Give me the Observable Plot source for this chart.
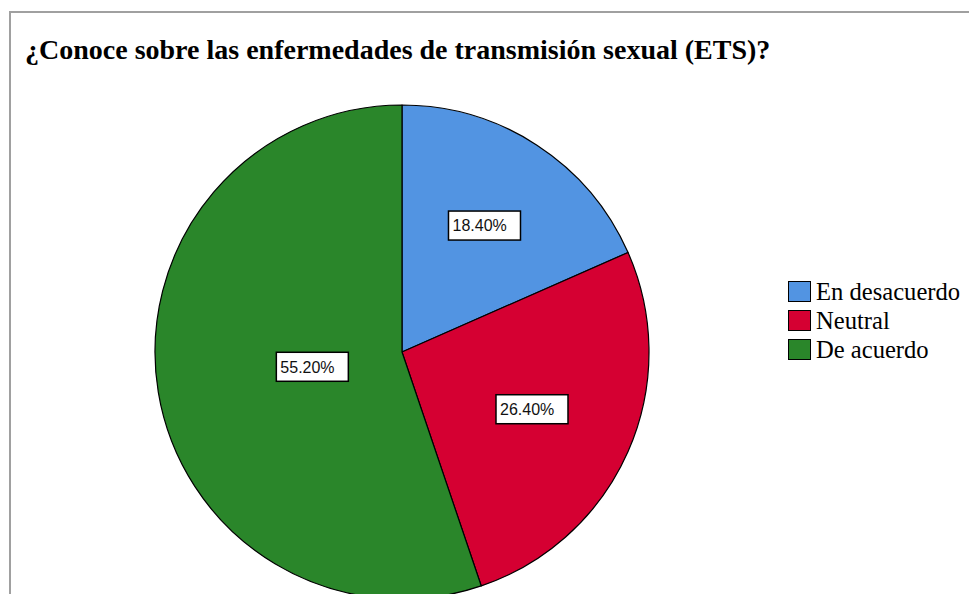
<!DOCTYPE html>
<html><head><meta charset="utf-8">
<script src="https://cdn.jsdelivr.net/npm/d3@7"></script>
<script src="https://cdn.jsdelivr.net/npm/@observablehq/plot@0.6"></script>
<style>
html,body{margin:0;padding:0;background:#fff;overflow:hidden;width:969px;height:594px;}
#wrap{position:relative;width:969px;height:594px;overflow:hidden;background:#fff;}
#chart{position:absolute;left:0;top:0;}
#frame{position:absolute;left:9px;top:11px;width:1000px;height:700px;border-top:2px solid #a0a0a0;border-left:2px solid #a0a0a0;pointer-events:none;}
#title{position:absolute;left:25px;top:36px;line-height:28px;white-space:nowrap;font-family:"Liberation Serif","Times New Roman",serif;font-weight:bold;font-size:28px;color:#000;}
#legend{position:absolute;left:788px;top:277px;font-family:"Liberation Serif","Times New Roman",serif;font-size:24.6px;color:#000;}
.row{display:flex;align-items:center;height:29px;line-height:29px;white-space:nowrap;}
.sw{width:21px;height:19px;border:1px solid #000;margin-right:5px;box-sizing:content-box;}
</style>
</head><body>
<div id="wrap">
  <div id="chart"></div>
  <div id="frame"></div>
  <div id="title"></div>
  <div id="legend"></div>
</div>
<script>
const titleText = "¿Conoce sobre las enfermedades de transmisión sexual (ETS)?";
const categories = ["En desacuerdo", "Neutral", "De acuerdo"];
const percents = [18.4, 26.4, 55.2];
const labels = ["18.40%", "26.40%", "55.20%"];
const colors = ["#5294E2", "#D50032", "#2A862A"];

document.getElementById("title").textContent = titleText;

const data = categories.map((c, i) => ({category: c, value: percents[i], label: labels[i]}));
const color = Plot.scale({color: {type: "ordinal", domain: categories, range: colors}});

const pieMark = (index, scales, values, dimensions) => {
  const {width, height, marginLeft, marginRight, marginTop, marginBottom} = dimensions;
  let cx, cy, R;
  if (scales && scales.x && scales.y) {
    cx = scales.x(0); cy = scales.y(0); R = Math.abs(scales.x(1) - scales.x(0));
  } else {
    cx = marginLeft + (width - marginLeft - marginRight) / 2;
    cy = marginTop + (height - marginTop - marginBottom) / 2;
    R = Math.min(width - marginLeft - marginRight, height - marginTop - marginBottom) / 2;
  }
  const arcs = d3.pie().sort(null).value(d => d.value)(data);
  const arc = d3.arc().innerRadius(0).outerRadius(R);
  const g = d3.create("svg:g").attr("transform", `translate(${cx},${cy})`);
  g.selectAll("path").data(arcs).join("path")
    .attr("d", arc)
    .attr("fill", d => color.apply(d.data.category))
    .attr("stroke", "#000")
    .attr("stroke-width", 1.2)
    .attr("stroke-linejoin", "round");
  const bw = 72, bh = 29;
  const lab = g.selectAll("g.lab").data(arcs).join("g").attr("class", "lab")
    .attr("transform", d => {
      const a = d.endAngle - d.startAngle;
      const mid = (d.startAngle + d.endAngle) / 2;
      const r = 0.97 * 4 * R * Math.sin(a / 2) / (3 * a);
      return `translate(${r * Math.sin(mid)},${-r * Math.cos(mid)})`;
    });
  lab.append("rect").attr("x", -bw / 2).attr("y", -bh / 2).attr("width", bw).attr("height", bh)
    .attr("fill", "#fff").attr("stroke", "#000").attr("stroke-width", 1.5);
  lab.append("text").attr("x", -bw / 2 + 4).attr("y", 0).attr("dy", "0.36em")
    .attr("text-anchor", "start")
    .attr("font-family", "'Liberation Sans', Arial, sans-serif").attr("font-size", 16)
    .attr("fill", "#111").text(d => d.data.label);
  return g.node();
};

const plot = Plot.plot({
  width: 969,
  height: 604,
  marginLeft: 155,
  marginRight: 320,
  marginTop: 105,
  marginBottom: 5,
  x: {domain: [-1, 1], axis: null},
  y: {domain: [-1, 1], axis: null},
  style: {background: "transparent", overflow: "visible"},
  marks: [pieMark]
});
document.getElementById("chart").appendChild(plot);

const legend = document.getElementById("legend");
categories.forEach((c, i) => {
  const row = document.createElement("div");
  row.className = "row";
  const sw = document.createElement("div");
  sw.className = "sw";
  sw.style.background = color.apply(c);
  const t = document.createElement("span");
  t.textContent = c;
  row.appendChild(sw); row.appendChild(t);
  legend.appendChild(row);
});
</script>
</body></html>
